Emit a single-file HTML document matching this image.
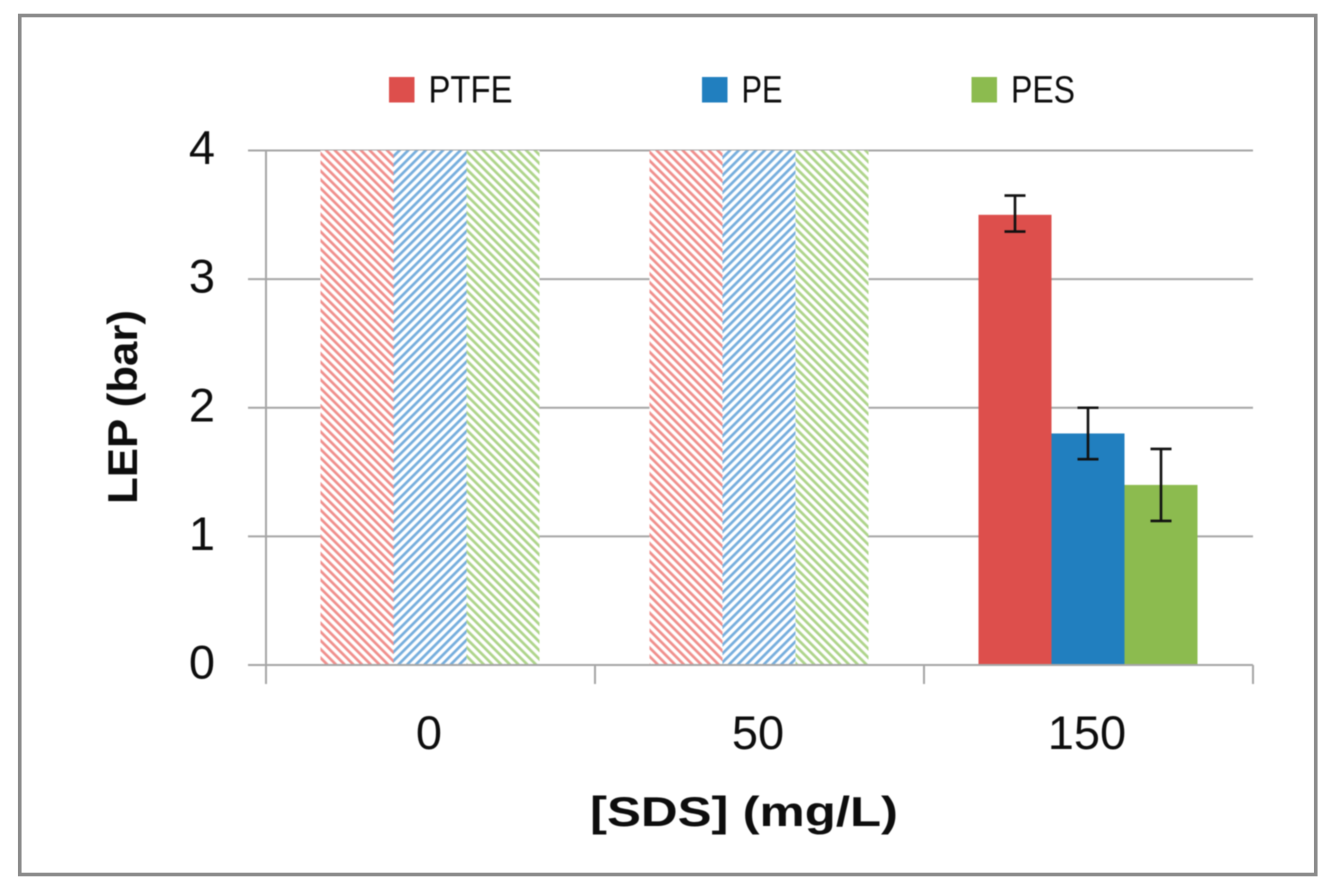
<!DOCTYPE html>
<html lang="en">
<head>
<meta charset="utf-8">
<title>LEP vs SDS concentration</title>
<style>
  html, body { margin: 0; padding: 0; background: #ffffff; }
  #chart { display: block; width: 1331px; height: 892px; }
  text { font-family: "Liberation Sans", sans-serif; fill: #0d0d0d; }
  .blurred { filter: blur(0.6px); }
</style>
</head>
<body>
<svg id="chart" xmlns="http://www.w3.org/2000/svg" width="1331" height="892" viewBox="0 0 1331 892">
  <defs></defs>
  <rect x="19.75" y="15.5" width="1296" height="859" fill="#ffffff" stroke="#8a8a8a" stroke-width="3.6"/>
  <g id="plot" class="blurred"></g>
</svg>
<script>
var categories = ['0', '50', '150'];
var seriesNames = ['PTFE', 'PE', 'PES'];
var ptfeValues = [4, 4, 3.5];
var peValues = [4, 4, 1.8];
var pesValues = [4, 4, 1.4];
var ptfeErrors = [null, null, [3.37, 3.65]];
var peErrors = [null, null, [1.6, 2.0]];
var pesErrors = [null, null, [1.12, 1.68]];
var hatched = [true, true, false];
var yTicks = [0, 1, 2, 3, 4];

var NS = 'http://www.w3.org/2000/svg';
var plot = document.getElementById('plot');
var defs = document.querySelector('defs');
var colors = ['#dd4f4c', '#217fbf', '#8cbb4f'];
var hatchColors = ['#f08f8c', '#76aedd', '#aed48a'];
var hatchAngles = [-45, 45, -45];
var left = 266, right = 1253, y0 = 665, y4 = 150.5;

function yScale(v) { return y0 - (v / 4) * (y0 - y4); }
function xCategory(i) { return left + (right - left) * (i + 0.5) / categories.length; }
function make(tag, attrs, parent) {
  var el = document.createElementNS(NS, tag);
  for (var k in attrs) { el.setAttribute(k, attrs[k]); }
  (parent || plot).appendChild(el);
  return el;
}

seriesNames.forEach(function (name, s) {
  var p = make('pattern', { id: 'hatch-' + s, patternUnits: 'userSpaceOnUse', width: 6.15, height: 6.15, patternTransform: 'rotate(' + hatchAngles[s] + ')' }, defs);
  make('rect', { x: 0, y: 0, width: 6.15, height: 6.15, fill: '#ffffff' }, p);
  make('rect', { x: 0, y: 0, width: 2.7, height: 6.15, fill: hatchColors[s] }, p);
});

// gridlines and y tick labels
yTicks.forEach(function (t) {
  var line = make('line', { x1: 248, x2: right, y1: yScale(t), y2: yScale(t), stroke: '#a6a6a6', 'stroke-width': 2 });
  
  
  var label = make('text', { x: 202, y: yScale(t) + 13.5, 'text-anchor': 'middle', 'font-size': 47 });
  label.textContent = String(t);
  
  
});

// y axis line
var yAxis = make('line', { x1: left, x2: left, y1: y4, y2: 684, stroke: '#a6a6a6', 'stroke-width': 2 });



// x ticks
for (var i = 0; i <= categories.length; i++) {
  var tx = left + (right - left) * i / categories.length;
  var tick = make('line', { x1: tx, x2: tx, y1: y0, y2: 684, stroke: '#a6a6a6', 'stroke-width': 2 });
  
  
}

// bars
var allValues = [ptfeValues, peValues, pesValues];
var allErrors = [ptfeErrors, peErrors, pesErrors];
var barWidth = 73;
categories.forEach(function (cat, c) {
  seriesNames.forEach(function (name, s) {
    var v = allValues[s][c];
    var x = xCategory(c) + (s - 1.5) * barWidth - 0.5;
    var bar = make('rect', {
      x: x, y: yScale(v), width: barWidth, height: y0 - yScale(v) - 1,
      fill: hatched[c] ? 'url(#hatch-' + s + ')' : colors[s]
    });
    
    
  });
});

// error bars drawn above all bars
categories.forEach(function (cat, c) {
  seriesNames.forEach(function (name, s) {
    var e = allErrors[s][c];
    if (!e) { return; }
    var cx = xCategory(c) + (s - 1) * barWidth - 0.5;
    var g = make('g', { stroke: '#111111', 'stroke-width': 2.6 });
    
    
    make('line', { x1: cx, x2: cx, y1: yScale(e[0]), y2: yScale(e[1]) }, g);
    make('line', { x1: cx - 10.5, x2: cx + 10.5, y1: yScale(e[0]), y2: yScale(e[0]) }, g);
    make('line', { x1: cx - 10.5, x2: cx + 10.5, y1: yScale(e[1]), y2: yScale(e[1]) }, g);
  });
});

// x axis category labels
categories.forEach(function (cat, c) {
  var label = make('text', { x: xCategory(c) - 1.5, y: 749, 'text-anchor': 'middle', 'font-size': 47 });
  label.textContent = cat;
  
  
});

// legend
var legendSwatchX = [389, 702, 971.5];
var legendWidths = [84, 41, 64];
seriesNames.forEach(function (name, s) {
  var sw = make('rect', { x: legendSwatchX[s], y: 77, width: 25.5, height: 25.5, fill: colors[s] });
  
  
  var t = make('text', { x: legendSwatchX[s] + 39.5, y: 102.5, 'font-size': 38, textLength: legendWidths[s], lengthAdjust: 'spacingAndGlyphs' });
  t.textContent = name;
  
  
});

// axis titles
var xTitle = make('text', { x: 744, y: 826, 'text-anchor': 'middle', 'font-size': 42, 'font-weight': 'bold', textLength: 308, lengthAdjust: 'spacingAndGlyphs' });
xTitle.textContent = '[SDS] (mg/L)';



var yTitle = make('text', { x: 0, y: 0, 'text-anchor': 'middle', 'font-size': 42, 'font-weight': 'bold', transform: 'translate(137 407) rotate(-90)', textLength: 194, lengthAdjust: 'spacingAndGlyphs' });
yTitle.textContent = 'LEP (bar)';


</script>
</body>
</html>
